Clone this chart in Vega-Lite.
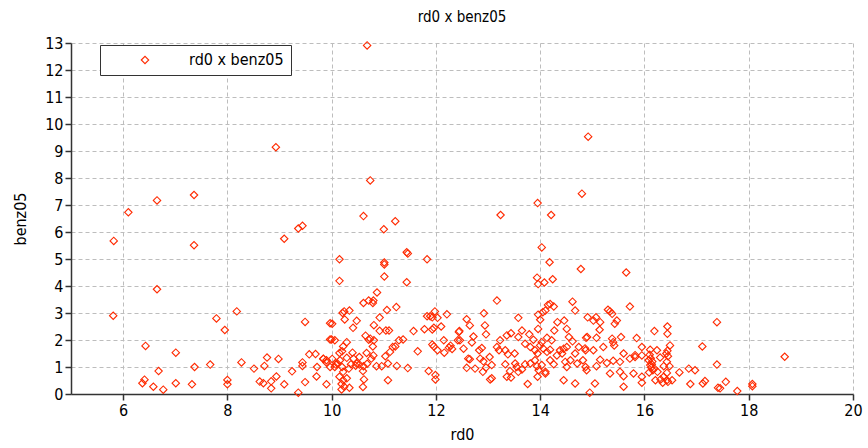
{
  "$schema": "https://vega.github.io/schema/vega-lite/v6.json",
  "width": 782,
  "height": 351,
  "autosize": {"type": "none"},
  "padding": {"left": 71, "top": 43, "right": 15, "bottom": 54},
  "background": "white",
  "title": {"text": "rd0 x benz05", "fontSize": 15, "fontWeight": "normal", "font": "Liberation Sans Narrow, DejaVu Sans Condensed, sans-serif", "color": "#000", "offset": 10},
  "config": {
    "view": {"stroke": null},
    "axis": {
      "labelFont": "Liberation Sans Narrow, DejaVu Sans Condensed, sans-serif",
      "labelFontSize": 16,
      "labelColor": "#000",
      "titleFont": "Liberation Sans Narrow, DejaVu Sans Condensed, sans-serif",
      "titleFontSize": 16,
      "titleFontWeight": "normal",
      "titleColor": "#000",
      "domainColor": "#333",
      "domainWidth": 1.5,
      "tickColor": "#333",
      "tickWidth": 1.5,
      "tickSize": 6,
      "labelPadding": 2,
      "gridColor": "#bdbdbd",
      "gridDash": [4, 3],
      "gridWidth": 1
    }
  },
  "data": {"values": [
    {"rd0":10.68,"benz05":12.91},{"rd0":14.92,"benz05":9.53},{"rd0":8.93,"benz05":9.14},{"rd0":10.74,"benz05":7.91},{"rd0":14.80,"benz05":7.42},{"rd0":7.36,"benz05":7.37},{"rd0":6.65,"benz05":7.17},{"rd0":13.95,"benz05":7.07},{"rd0":6.10,"benz05":6.73},{"rd0":13.24,"benz05":6.63},{"rd0":14.21,"benz05":6.63},{"rd0":10.61,"benz05":6.59},{"rd0":11.22,"benz05":6.40},{"rd0":9.44,"benz05":6.23},{"rd0":9.36,"benz05":6.13},{"rd0":11.00,"benz05":6.10},{"rd0":9.09,"benz05":5.75},{"rd0":5.82,"benz05":5.67},{"rd0":7.36,"benz05":5.51},{"rd0":14.03,"benz05":5.43},{"rd0":11.44,"benz05":5.25},{"rd0":11.46,"benz05":5.20},{"rd0":10.15,"benz05":4.99},{"rd0":11.01,"benz05":4.87},{"rd0":11.01,"benz05":4.80},{"rd0":11.83,"benz05":4.99},{"rd0":14.18,"benz05":4.88},{"rd0":14.78,"benz05":4.63},{"rd0":15.65,"benz05":4.50},{"rd0":10.15,"benz05":4.19},{"rd0":11.01,"benz05":4.35},{"rd0":11.44,"benz05":4.14},{"rd0":13.94,"benz05":4.31},{"rd0":13.96,"benz05":4.07},{"rd0":14.08,"benz05":4.13},{"rd0":14.24,"benz05":4.25},{"rd0":6.65,"benz05":3.88},{"rd0":10.87,"benz05":3.76},{"rd0":10.61,"benz05":3.37},{"rd0":10.71,"benz05":3.46},{"rd0":10.79,"benz05":3.37},{"rd0":10.80,"benz05":3.46},{"rd0":13.17,"benz05":3.46},{"rd0":14.15,"benz05":3.30},{"rd0":14.19,"benz05":3.33},{"rd0":14.26,"benz05":3.24},{"rd0":14.62,"benz05":3.42},{"rd0":14.67,"benz05":3.09},{"rd0":15.72,"benz05":3.24},{"rd0":15.30,"benz05":3.12},{"rd0":15.34,"benz05":3.06},{"rd0":15.38,"benz05":2.97},{"rd0":8.18,"benz05":3.06},{"rd0":11.06,"benz05":3.11},{"rd0":11.24,"benz05":3.22},{"rd0":10.21,"benz05":3.00},{"rd0":10.24,"benz05":3.06},{"rd0":10.34,"benz05":3.09},{"rd0":5.81,"benz05":2.90},{"rd0":7.79,"benz05":2.80},{"rd0":7.95,"benz05":2.37},{"rd0":9.49,"benz05":2.67},{"rd0":9.97,"benz05":2.62},{"rd0":9.97,"benz05":2.02},{"rd0":10.25,"benz05":2.76},{"rd0":10.01,"benz05":2.60},{"rd0":10.48,"benz05":2.71},{"rd0":10.41,"benz05":2.45},{"rd0":10.92,"benz05":2.83},{"rd0":10.81,"benz05":2.55},{"rd0":10.92,"benz05":2.34},{"rd0":11.04,"benz05":2.35},{"rd0":11.10,"benz05":2.35},{"rd0":10.00,"benz05":2.02},{"rd0":10.06,"benz05":1.99},{"rd0":10.29,"benz05":1.92},{"rd0":10.65,"benz05":2.16},{"rd0":10.74,"benz05":2.05},{"rd0":10.71,"benz05":2.01},{"rd0":10.81,"benz05":1.99},{"rd0":10.22,"benz05":1.76},{"rd0":10.20,"benz05":1.58},{"rd0":10.40,"benz05":1.53},{"rd0":10.67,"benz05":1.52},{"rd0":10.79,"benz05":1.76},{"rd0":10.80,"benz05":1.43},{"rd0":10.76,"benz05":1.31},{"rd0":11.03,"benz05":1.40},{"rd0":11.12,"benz05":1.56},{"rd0":11.17,"benz05":1.74},{"rd0":11.22,"benz05":1.76},{"rd0":11.29,"benz05":1.99},{"rd0":11.37,"benz05":2.02},{"rd0":11.08,"benz05":1.13},{"rd0":10.96,"benz05":1.03},{"rd0":10.86,"benz05":1.03},{"rd0":10.68,"benz05":1.12},{"rd0":10.53,"benz05":1.09},{"rd0":10.46,"benz05":1.05},{"rd0":10.60,"benz05":0.85},{"rd0":10.62,"benz05":0.54},{"rd0":10.60,"benz05":0.26},{"rd0":11.08,"benz05":0.51},{"rd0":11.25,"benz05":1.04},{"rd0":11.46,"benz05":0.96},{"rd0":11.65,"benz05":1.58},{"rd0":11.57,"benz05":2.33},{"rd0":11.78,"benz05":2.40},{"rd0":11.93,"benz05":2.39},{"rd0":11.96,"benz05":2.45},{"rd0":11.83,"benz05":2.88},{"rd0":11.89,"benz05":2.88},{"rd0":11.93,"benz05":2.84},{"rd0":11.98,"benz05":3.06},{"rd0":12.03,"benz05":2.82},{"rd0":12.21,"benz05":2.95},{"rd0":12.10,"benz05":2.50},{"rd0":12.15,"benz05":1.99},{"rd0":11.93,"benz05":1.83},{"rd0":11.96,"benz05":1.76},{"rd0":12.03,"benz05":1.62},{"rd0":12.28,"benz05":1.79},{"rd0":12.31,"benz05":1.67},{"rd0":12.25,"benz05":1.72},{"rd0":12.16,"benz05":1.53},{"rd0":12.42,"benz05":1.99},{"rd0":12.44,"benz05":2.30},{"rd0":11.86,"benz05":0.85},{"rd0":11.99,"benz05":0.70},{"rd0":11.99,"benz05":0.54},
    {"rd0":9.84,"benz05":1.31},{"rd0":9.90,"benz05":1.25},{"rd0":10.01,"benz05":1.30},{"rd0":10.06,"benz05":1.00},{"rd0":10.11,"benz05":1.13},{"rd0":10.16,"benz05":1.25},{"rd0":10.20,"benz05":1.00},{"rd0":10.22,"benz05":0.82},{"rd0":10.15,"benz05":0.64},{"rd0":10.22,"benz05":0.51},{"rd0":10.19,"benz05":0.37},{"rd0":10.24,"benz05":0.27},{"rd0":10.19,"benz05":0.17},{"rd0":10.34,"benz05":0.23},{"rd0":10.29,"benz05":0.58},{"rd0":10.33,"benz05":0.94},{"rd0":10.37,"benz05":1.10},{"rd0":10.29,"benz05":1.34},{"rd0":9.97,"benz05":1.00},{"rd0":10.08,"benz05":1.09},{"rd0":10.15,"benz05":1.52},{"rd0":10.42,"benz05":1.31},{"rd0":10.48,"benz05":1.13},{"rd0":10.53,"benz05":1.37},{"rd0":10.61,"benz05":1.03},
    {"rd0":6.43,"benz05":1.78},{"rd0":7.01,"benz05":1.53},{"rd0":6.68,"benz05":0.85},{"rd0":7.37,"benz05":1.00},{"rd0":6.41,"benz05":0.53},{"rd0":6.37,"benz05":0.40},{"rd0":6.58,"benz05":0.27},{"rd0":6.77,"benz05":0.16},{"rd0":7.01,"benz05":0.40},{"rd0":7.32,"benz05":0.36},{"rd0":7.67,"benz05":1.09},{"rd0":8.27,"benz05":1.17},{"rd0":8.51,"benz05":0.94},{"rd0":8.71,"benz05":1.04},{"rd0":8.76,"benz05":1.35},{"rd0":8.98,"benz05":1.30},{"rd0":9.24,"benz05":0.84},{"rd0":9.44,"benz05":1.17},{"rd0":9.44,"benz05":1.04},{"rd0":9.57,"benz05":1.47},{"rd0":9.69,"benz05":1.48},{"rd0":9.84,"benz05":1.30},{"rd0":9.90,"benz05":1.17},{"rd0":9.72,"benz05":1.00},{"rd0":9.71,"benz05":0.65},{"rd0":9.49,"benz05":0.44},{"rd0":9.90,"benz05":0.36},{"rd0":8.00,"benz05":0.52},{"rd0":8.00,"benz05":0.36},{"rd0":8.62,"benz05":0.46},{"rd0":8.69,"benz05":0.40},{"rd0":8.84,"benz05":0.47},{"rd0":8.84,"benz05":0.21},{"rd0":8.94,"benz05":0.65},{"rd0":9.09,"benz05":0.36},{"rd0":9.36,"benz05":0.05},
    {"rd0":12.92,"benz05":2.99},{"rd0":13.58,"benz05":2.82},{"rd0":13.96,"benz05":2.94},{"rd0":14.00,"benz05":2.75},{"rd0":14.05,"benz05":3.03},{"rd0":14.10,"benz05":3.09},{"rd0":12.59,"benz05":2.77},{"rd0":12.65,"benz05":2.54},{"rd0":12.94,"benz05":2.54},{"rd0":12.45,"benz05":2.33},{"rd0":12.96,"benz05":2.21},{"rd0":12.72,"benz05":2.13},{"rd0":12.46,"benz05":1.99},{"rd0":12.53,"benz05":1.68},{"rd0":12.69,"benz05":1.91},{"rd0":12.88,"benz05":1.70},{"rd0":12.83,"benz05":1.62},{"rd0":13.23,"benz05":1.99},{"rd0":13.21,"benz05":1.62},{"rd0":13.36,"benz05":2.17},{"rd0":13.44,"benz05":2.25},{"rd0":13.65,"benz05":2.35},{"rd0":13.38,"benz05":1.47},{"rd0":13.51,"benz05":1.50},{"rd0":13.58,"benz05":2.11},{"rd0":13.71,"benz05":1.86},{"rd0":13.79,"benz05":2.21},{"rd0":13.87,"benz05":2.01},{"rd0":13.96,"benz05":2.41},{"rd0":14.03,"benz05":1.92},{"rd0":14.13,"benz05":2.08},{"rd0":14.22,"benz05":1.99},{"rd0":14.27,"benz05":2.35},{"rd0":14.33,"benz05":2.66},{"rd0":14.46,"benz05":2.72},{"rd0":14.51,"benz05":2.41},{"rd0":14.55,"benz05":2.11},{"rd0":14.62,"benz05":1.95},{"rd0":14.74,"benz05":1.74},{"rd0":14.87,"benz05":1.62},{"rd0":14.90,"benz05":2.11},{"rd0":14.91,"benz05":2.84},{"rd0":12.62,"benz05":1.31},{"rd0":12.65,"benz05":1.29},{"rd0":12.85,"benz05":1.31},{"rd0":12.91,"benz05":1.21},{"rd0":13.03,"benz05":1.37},{"rd0":13.07,"benz05":1.07},{"rd0":12.59,"benz05":0.97},{"rd0":12.75,"benz05":0.94},{"rd0":12.90,"benz05":0.82},{"rd0":12.96,"benz05":0.98},{"rd0":13.07,"benz05":0.58},{"rd0":13.33,"benz05":1.10},{"rd0":13.42,"benz05":0.85},{"rd0":13.36,"benz05":0.64},{"rd0":13.52,"benz05":1.13},{"rd0":13.55,"benz05":1.00},{"rd0":13.58,"benz05":0.82},{"rd0":13.65,"benz05":0.91},{"rd0":13.71,"benz05":1.10},{"rd0":13.81,"benz05":1.13},{"rd0":13.90,"benz05":1.25},{"rd0":13.94,"benz05":1.03},{"rd0":13.97,"benz05":0.88},{"rd0":14.03,"benz05":1.07},{"rd0":14.10,"benz05":0.82},{"rd0":14.19,"benz05":1.25},{"rd0":14.26,"benz05":1.10},{"rd0":14.32,"benz05":1.43},{"rd0":14.42,"benz05":1.50},{"rd0":14.48,"benz05":1.19},{"rd0":14.51,"benz05":1.00},{"rd0":14.58,"benz05":1.25},{"rd0":14.67,"benz05":1.50},{"rd0":14.71,"benz05":1.13},{"rd0":14.82,"benz05":1.25},{"rd0":14.87,"benz05":1.00},{"rd0":13.76,"benz05":0.37},{"rd0":13.95,"benz05":0.64},{"rd0":14.10,"benz05":0.76},{"rd0":14.45,"benz05":0.51},{"rd0":14.67,"benz05":0.39},{"rd0":13.44,"benz05":0.61},{"rd0":13.04,"benz05":0.54},{"rd0":14.95,"benz05":0.05},{"rd0":13.81,"benz05":1.74},{"rd0":13.90,"benz05":1.62},{"rd0":13.95,"benz05":1.50},{"rd0":14.00,"benz05":1.80},{"rd0":14.06,"benz05":1.68},{"rd0":14.13,"benz05":1.56},{"rd0":14.19,"benz05":1.64},{"rd0":14.38,"benz05":1.62},{"rd0":14.45,"benz05":1.68},{"rd0":14.51,"benz05":1.74},{"rd0":13.17,"benz05":1.74},{"rd0":13.33,"benz05":1.62},
    {"rd0":15.47,"benz05":2.72},{"rd0":15.43,"benz05":2.60},{"rd0":15.07,"benz05":2.84},{"rd0":15.02,"benz05":2.72},{"rd0":15.15,"benz05":2.66},{"rd0":15.14,"benz05":2.38},{"rd0":14.88,"benz05":2.08},{"rd0":15.08,"benz05":2.08},{"rd0":15.38,"benz05":2.05},{"rd0":15.40,"benz05":1.92},{"rd0":15.55,"benz05":2.11},{"rd0":15.85,"benz05":2.07},{"rd0":16.19,"benz05":2.33},{"rd0":16.44,"benz05":2.50},{"rd0":16.44,"benz05":2.23},{"rd0":17.39,"benz05":2.66},{"rd0":17.11,"benz05":1.76},{"rd0":14.86,"benz05":1.69},{"rd0":15.02,"benz05":1.62},{"rd0":15.21,"benz05":1.74},{"rd0":15.42,"benz05":1.80},{"rd0":15.60,"benz05":1.50},{"rd0":15.82,"benz05":1.44},{"rd0":15.95,"benz05":1.74},{"rd0":16.11,"benz05":1.64},{"rd0":16.24,"benz05":1.62},{"rd0":16.42,"benz05":1.50},{"rd0":16.49,"benz05":1.80},{"rd0":15.15,"benz05":1.27},{"rd0":15.28,"benz05":1.15},{"rd0":15.40,"benz05":1.23},{"rd0":15.53,"benz05":1.19},{"rd0":15.72,"benz05":1.31},{"rd0":15.82,"benz05":1.37},{"rd0":15.95,"benz05":1.43},{"rd0":16.08,"benz05":1.25},{"rd0":16.14,"benz05":1.10},{"rd0":16.30,"benz05":1.35},{"rd0":16.43,"benz05":1.19},{"rd0":16.48,"benz05":1.03},{"rd0":14.89,"benz05":0.88},{"rd0":15.08,"benz05":1.03},{"rd0":15.34,"benz05":0.76},{"rd0":15.53,"benz05":0.82},{"rd0":15.60,"benz05":0.66},{"rd0":15.79,"benz05":0.76},{"rd0":15.95,"benz05":0.64},{"rd0":16.11,"benz05":1.07},{"rd0":16.19,"benz05":0.94},{"rd0":16.25,"benz05":0.82},{"rd0":16.37,"benz05":1.03},{"rd0":16.43,"benz05":0.78},{"rd0":15.05,"benz05":0.39},{"rd0":15.60,"benz05":0.27},{"rd0":15.95,"benz05":0.42},{"rd0":16.21,"benz05":0.51},{"rd0":16.31,"benz05":0.54},{"rd0":16.37,"benz05":0.64},{"rd0":16.43,"benz05":0.51},{"rd0":16.53,"benz05":0.51},{"rd0":16.67,"benz05":0.80},{"rd0":16.85,"benz05":0.94},{"rd0":16.97,"benz05":0.88},{"rd0":16.88,"benz05":0.37},{"rd0":17.12,"benz05":0.39},{"rd0":17.16,"benz05":0.48},{"rd0":17.41,"benz05":0.23},{"rd0":17.39,"benz05":1.09},{"rd0":16.10,"benz05":1.45},{"rd0":16.12,"benz05":1.32},{"rd0":16.15,"benz05":1.20},{"rd0":16.13,"benz05":0.98},{"rd0":16.16,"benz05":0.88},{"rd0":16.09,"benz05":0.80},{"rd0":16.44,"benz05":1.60},{"rd0":16.45,"benz05":1.40},{"rd0":16.35,"benz05":0.42},{"rd0":16.45,"benz05":0.45},
    {"rd0":18.69,"benz05":1.38},{"rd0":17.56,"benz05":0.45},{"rd0":17.45,"benz05":0.21},{"rd0":17.78,"benz05":0.11},{"rd0":18.07,"benz05":0.37},{"rd0":18.07,"benz05":0.29}
  ]},
  "mark": {"type": "point", "shape": "diamond", "filled": false, "size": 55, "strokeWidth": 1.1, "opacity": 1},
  "encoding": {
    "x": {
      "field": "rd0", "type": "quantitative",
      "scale": {"domain": [5, 20], "nice": false, "zero": false},
      "axis": {"values": [6, 8, 10, 12, 14, 16, 18, 20], "title": "rd0", "titlePadding": 8, "labelFlush": false}
    },
    "y": {
      "field": "benz05", "type": "quantitative",
      "scale": {"domain": [0, 13], "nice": false},
      "axis": {"values": [0, 1, 2, 3, 4, 5, 6, 7, 8, 9, 10, 11, 12, 13], "title": "benz05", "titlePadding": 16, "labelFlush": false}
    },
    "color": {
      "datum": "rd0 x benz05",
      "scale": {"range": ["#ff2a00"]},
      "legend": {
        "title": null,
        "orient": "none",
        "legendX": 29,
        "legendY": 2,
        "strokeColor": "#333",
        "fillColor": "white",
        "padding": 7,
        "symbolType": "diamond",
        "symbolSize": 55,
        "symbolStrokeWidth": 1.1,
        "symbolFillColor": "transparent",
        "symbolOffset": 30,
        "labelOffset": 36,
        "labelFontSize": 16,
        "labelFont": "Liberation Sans Narrow, DejaVu Sans Condensed, sans-serif",
        "labelColor": "#000"
      }
    }
  }
}
